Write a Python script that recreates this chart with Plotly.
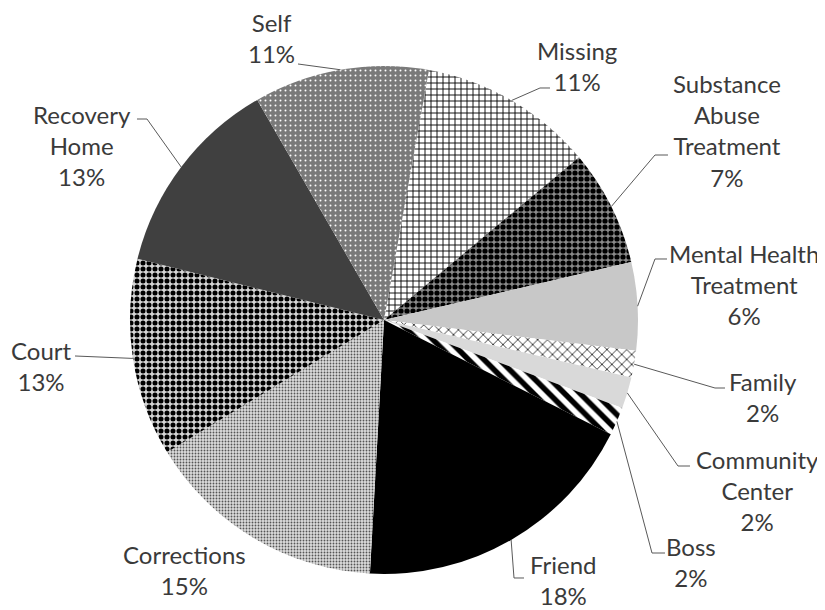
import math
import plotly.graph_objects as go

# ---------------- data ----------------
categories = ["Missing", "Substance Abuse Treatment", "Mental Health Treatment", "Family",
              "Community Center", "Boss", "Friend", "Corrections", "Court", "Recovery Home", "Self"]
values = [11.1, 7.4, 5.6, 1.7, 2.0, 1.8, 18.45, 15.4, 12.6, 12.8, 11.15]
label_text = ["Missing", "Substance<br>Abuse<br>Treatment", "Mental Health<br>Treatment", "Family",
              "Community<br>Center", "Boss", "Friend", "Corrections", "Court", "Recovery<br>Home", "Self"]

# ---------------- styles ----------------
base_colors = ["#ffffff", "#9a9a9a", "#c8c8c8", "#ffffff", "#d9d9d9", "#ffffff",
               "#000000", "#d8d8d8", "#ffffff", "#404040", "#7f7f7f"]
pat_shape = ["+", ".", "", "x", "", "\\", "", ".", ".", "", "."]
pat_bg = ["#ffffff", "#8a8a8a", "#c8c8c8", "#ffffff", "#d9d9d9", "#ffffff",
          "#000000", "#dcdcdc", "#d6d6d6", "#404040", "#7a7a7a"]
pat_fg = ["#000000", "#000000", "#c8c8c8", "#000000", "#d9d9d9", "#000000",
          "#000000", "#555555", "#000000", "#404040", "#ffffff"]
pat_size = [6, 6, 8, 7, 8, 11, 8, 3, 6, 8, 5]
pat_solid = [0.28, 0.6, 0.3, 0.2, 0.3, 0.5, 0.3, 0.3, 0.55, 0.3, 0.12]

# the page adds an 8px body margin, so the figure is placed at (8, 8)
OFF = 8
W, H = 825 - OFF, 610 - OFF
CX, CY, R = 384, 320, 254          # pie centre / radius in window pixels
ROT = 10.2

# label block centres (window px) and leader lines: start, elbow
label_pos = [(577, 66), (727, 130), (744, 284), (763, 397), (757, 490), (691, 562),
             (563, 580), (184, 570), (41, 366), (82, 145), (271, 38)]
leader = [((550, 88), (540, 88)), ((668, 155), (655, 155)), ((667, 259), (655, 259)),
          ((725, 388), (715, 388)), ((690, 466), (678, 466)), ((665, 553), (652, 553)),
          ((524, 578), (514, 578)), None, ((75, 356), None), ((137, 119), (147, 119)),
          ((298, 64), None)]

FONT = "Lato"
TXT = "#3a3a3a"

def px(x):
    return (x - OFF) / W

def py(y):
    return 1 - (y - OFF) / H

fig = go.Figure(go.Pie(
    labels=categories, values=values, sort=False, direction="clockwise",
    rotation=ROT, textinfo="none", hoverinfo="label+percent",
    domain=dict(x=[px(CX - R), px(CX + R)], y=[py(CY + R), py(CY - R)]),
    marker=dict(colors=base_colors, line=dict(width=0),
                pattern=dict(shape=pat_shape, bgcolor=pat_bg, fgcolor=pat_fg,
                             size=pat_size, solidity=pat_solid, fillmode="replace")),
    showlegend=False,
))

total = sum(values)
annotations = []
shapes = []
cum = 0.0
for i, v in enumerate(values):
    pct = round(100 * v / total)
    mid = math.radians(ROT + 360 * (cum + v / 2) / total)
    cum += v
    ex, ey = CX + R * math.sin(mid), CY - R * math.cos(mid)
    lx, ly = label_pos[i]
    annotations.append(dict(x=px(lx), y=py(ly), xref="paper", yref="paper",
                            text=f"{label_text[i]}<br>{pct}%", showarrow=False,
                            xanchor="center", yanchor="middle", align="center",
                            font=dict(family=FONT, size=24, color=TXT)))
    if leader[i] is not None:
        (sx, sy), elbow = leader[i]
        pts = [(sx, sy)]
        if elbow is not None:
            pts.append(elbow)
        pts.append((ex, ey))
        path = "M " + " L ".join(f"{px(a):.5f},{py(b):.5f}" for a, b in pts)
        shapes.append(dict(type="path", path=path, xref="paper", yref="paper",
                           line=dict(color="#595959", width=1)))

fig.update_layout(width=W, height=H, margin=dict(l=0, r=0, t=0, b=0),
                  paper_bgcolor="white", plot_bgcolor="white",
                  annotations=annotations, shapes=shapes)
fig.write_html("out.html")
